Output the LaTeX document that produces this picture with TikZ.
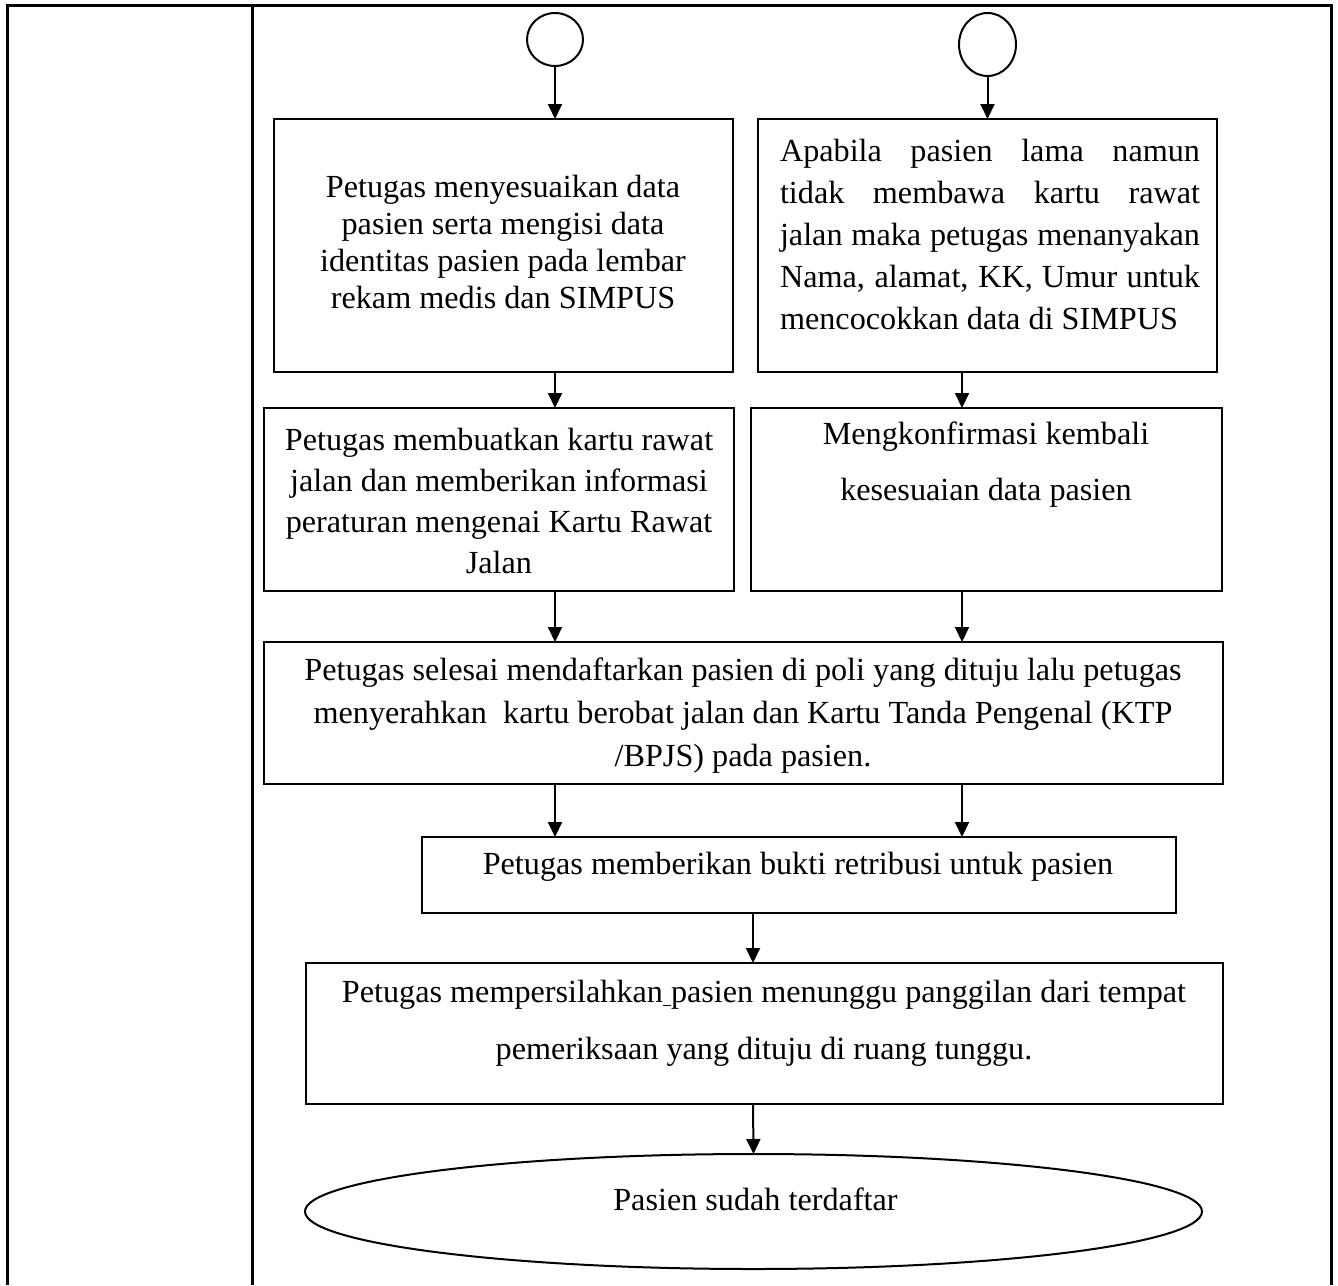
\documentclass[tikz,border=0pt]{standalone}
\usepackage{fontspec}
\setmainfont{Liberation Serif}
\usetikzlibrary{arrows.meta,shapes.geometric}
\begin{document}
\begin{tikzpicture}[x=0.5pt,y=-0.5pt,
  box/.style={draw,line width=1pt,inner sep=0pt,outer sep=0pt},
  frameline/.style={line width=1.5pt},
  arr/.style={line width=1pt,-{Triangle[width=7pt,length=7.5pt]}},
  txt/.style={inner sep=0pt,align=center},
  fs/.style={font=\fontsize{16.1}{#1}\selectfont}]
\useasboundingbox (0,0) rectangle (1338,1285);
% outer table frame
\draw[frameline] (7,1285) -- (7,5) -- (1331,5) -- (1331,1285);
\draw[frameline] (252,5) -- (252,1285);
% helper columns
\coordinate (xL) at (555,0);
\coordinate (xR) at (962,0);
\coordinate (xM) at (753,0);
% shapes
\node[box,ellipse,minimum width=28pt,minimum height=26.5pt] (c1) at (555,39.5) {};
\node[box,ellipse,minimum width=28.5pt,minimum height=31.5pt] (c2) at (987.5,44.5) {};
\node[box,minimum width=229.5pt,minimum height=126.5pt] (b1) at (503.5,245.5) {};
\node[box,minimum width=229.5pt,minimum height=126.5pt] (b2) at (987.5,245.5) {};
\node[box,minimum width=235pt,minimum height=91.5pt] (b3) at (499,499.5) {};
\node[box,minimum width=235.5pt,minimum height=91.5pt] (b4) at (986.5,499.5) {};
\node[box,minimum width=479.5pt,minimum height=71pt] (b5) at (743.5,713) {};
\node[box,minimum width=377pt,minimum height=38pt] (b6) at (799,875) {};
\node[box,minimum width=458.5pt,minimum height=70.5pt] (b7) at (764.5,1033.5) {};
\node[box,ellipse,minimum width=448.5pt,minimum height=57.5pt] (e) at (753.5,1211.5) {};
% texts
\node[txt,fs=18.5pt] (t1) at (503,242) {Petugas menyesuaikan data\\pasien serta mengisi data\\identitas pasien pada lembar\\rekam medis dan SIMPUS};
\node[txt,fs=21pt,align=left] (t2) at (990,234) {\makebox[210pt][s]{Apabila pasien lama namun}\\
\makebox[210pt][s]{tidak membawa kartu rawat}\\
\makebox[210pt][s]{jalan maka petugas menanyakan}\\
\makebox[210pt][s]{Nama, alamat, KK, Umur untuk}\\
\makebox[210pt][l]{mencocokkan data di SIMPUS}};
\node[txt,fs=20.5pt] (t3) at (499,501) {Petugas membuatkan kartu rawat\\jalan dan memberikan informasi\\peraturan mengenai Kartu Rawat\\Jalan};
\node[txt,fs=28pt] (t4) at (986,465) {Mengkonfirmasi kembali\\kesesuaian data pasien};
\node[txt,fs=21.5pt] (t5) at (743,716) {Petugas selesai mendaftarkan pasien di poli yang dituju lalu petugas\\menyerahkan\ \ kartu berobat jalan dan Kartu Tanda Pengenal (KTP\\/BPJS) pada pasien.};
\node[txt,fs=18pt] (t6) at (798,867) {Petugas memberikan bukti retribusi untuk pasien};
\node[txt,fs=28.5pt] (t7) at (764,1023.5) {Petugas mempersilahkan\underline{\ }pasien menunggu panggilan dari tempat\\pemeriksaan yang dituju di ruang tunggu.};
\node[txt,fs=18pt] (te) at (755.5,1199) {Pasien sudah terdaftar};
% connectors
\draw[arr] (c1.south) -- (c1.south |- b1.north);
\draw[arr] (c2.south) -- (c2.south |- b2.north);
\draw[arr] (b1.south -| xL) -- (b3.north -| xL);
\draw[arr] (b2.south -| xR) -- (b4.north -| xR);
\draw[arr] (b3.south -| xL) -- (b5.north -| xL);
\draw[arr] (b4.south -| xR) -- (b5.north -| xR);
\draw[arr] (b5.south -| xL) -- (b6.north -| xL);
\draw[arr] (b5.south -| xR) -- (b6.north -| xR);
\draw[arr] (b6.south -| xM) -- (b7.north -| xM);
\draw[arr] (b7.south -| xM) -- (e.north);
\end{tikzpicture}
\end{document}
